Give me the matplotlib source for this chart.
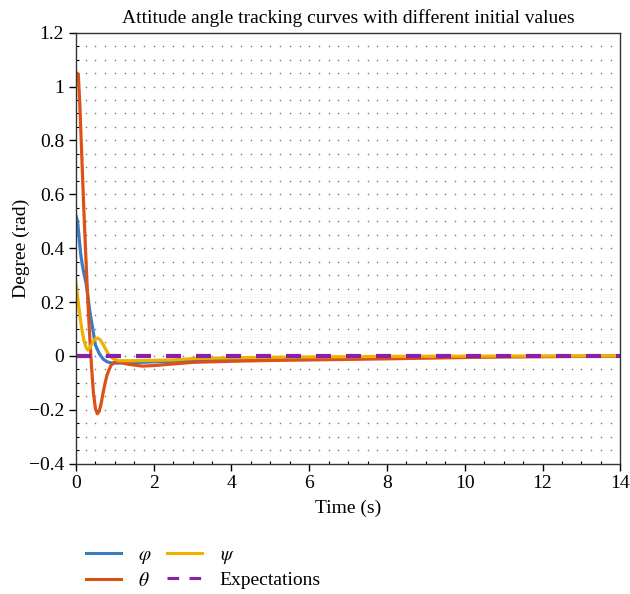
import numpy as np
import matplotlib
matplotlib.use('Agg')
import matplotlib.pyplot as plt
from matplotlib.pyplot import MultipleLocator
from matplotlib.lines import Line2D

plt.rcParams['font.family'] = ['Liberation Serif', 'DejaVu Serif']
plt.rcParams['mathtext.fontset'] = 'stix'
plt.rcParams['axes.unicode_minus'] = True

# attitude angle curves
t_phi = [0, 0.04, 0.08, 0.12, 0.16, 0.2, 0.26, 0.3, 0.35, 0.42, 0.5, 0.6, 0.7, 0.8, 0.9, 1.0,
         1.3, 2, 3, 4, 6, 8, 10, 12, 14]
phi = [0.52, 0.50, 0.44, 0.38, 0.34, 0.31, 0.27, 0.23, 0.17, 0.11, 0.04, 0.008, -0.012, -0.022,
       -0.026, -0.027, -0.026, -0.022, -0.018, -0.014, -0.009, -0.006, -0.003, -0.002, -0.001]

t_theta = [0, 0.03, 0.06, 0.1, 0.15, 0.2, 0.25, 0.3, 0.35, 0.4, 0.45, 0.5, 0.55, 0.6, 0.65,
           0.7, 0.75, 0.8, 0.9, 1.0, 1.1, 1.3, 1.7, 2.0, 2.5, 3, 4, 5, 6, 8, 10, 11, 12, 14]
theta = [1.03, 1.05, 1.045, 0.93, 0.74, 0.55, 0.38, 0.22, 0.08, -0.04, -0.14, -0.195, -0.215,
         -0.205, -0.175, -0.135, -0.1, -0.07, -0.035, -0.022, -0.022, -0.03, -0.038, -0.036,
         -0.03, -0.024, -0.02, -0.017, -0.015, -0.011, -0.006, -0.004, -0.003, -0.001]

t_psi = [0, 0.05, 0.1, 0.15, 0.2, 0.25, 0.3, 0.35, 0.4, 0.45, 0.5, 0.56, 0.62, 0.7, 0.8, 0.85,
         0.95, 1.1, 1.5, 2.5, 3, 4, 5, 6, 8, 10, 14]
psi = [0.27, 0.21, 0.15, 0.1, 0.06, 0.035, 0.022, 0.028, 0.042, 0.055, 0.063, 0.066, 0.06,
       0.042, 0.015, 0.003, -0.01, -0.018, -0.018, -0.015, -0.01, -0.007, -0.005, -0.004,
       -0.002, -0.001, 0]

t_exp = [0, 14]
expect = [0, 0]

c_phi, c_theta, c_psi, c_exp = '#3a7cc3', '#dd5016', '#efb000', '#8a1fa8'

fig = plt.figure(figsize=(6.3, 5.94), dpi=100)
ax = fig.add_axes([0.1206, 0.2195, 0.864, 0.7255])

# dotted background grid
gx, gy = np.meshgrid(np.arange(0.25, 14, 0.25), np.arange(-0.35, 1.2, 0.05))
ax.scatter(gx.ravel(), gy.ravel(), s=1.3, c='#7a7a7a', marker='o', linewidths=0, zorder=0)

ax.plot(t_phi, phi, color=c_phi, lw=2.3)
ax.plot(t_theta, theta, color=c_theta, lw=2.3)
ax.plot(t_psi, psi, color=c_psi, lw=2.3)
ax.plot(t_exp, expect, color=c_exp, lw=3, dashes=(3.6, 3.6))

ax.set_xlim(0, 14)
ax.set_ylim(-0.4, 1.2)
ax.xaxis.set_major_locator(MultipleLocator(2))
ax.xaxis.set_minor_locator(MultipleLocator(0.5))
ax.yaxis.set_minor_locator(MultipleLocator(0.05))
ax.set_yticks(np.arange(-0.4, 1.21, 0.2))
ax.set_yticklabels(['\u22120.4', '\u22120.2', '0', '0.2', '0.4', '0.6', '0.8', '1', '1.2'])
ax.tick_params(which='major', direction='out', length=5, width=1, labelsize=14)
ax.tick_params(which='minor', direction='in', length=2.5, width=0.8)
for s in ax.spines.values():
    s.set_linewidth(1)
    s.set_color('#333333')

ax.set_xlabel('Time (s)', fontsize=14, labelpad=5)
ax.set_ylabel('Degree (rad)', fontsize=14, labelpad=-1)
ax.set_title('Attitude angle tracking curves with different initial values', fontsize=14, pad=7)

handles = [Line2D([], [], color=c_phi, lw=2.2),
           Line2D([], [], color=c_theta, lw=2.2),
           Line2D([], [], color=c_psi, lw=2.2),
           Line2D([], [], color=c_exp, lw=2.2, dashes=(3.8, 3.4))]
labels = [r'$\varphi$', r'$\theta$', r'$\psi$', 'Expectations']
fig.legend(handles, labels, loc='upper left', bbox_to_anchor=(0.108, 0.11), ncol=2,
           frameon=False, fontsize=14, handlelength=1.8, labelspacing=0.3,
           columnspacing=0.8, handletextpad=0.9)

fig.savefig('out.png', dpi=100)
